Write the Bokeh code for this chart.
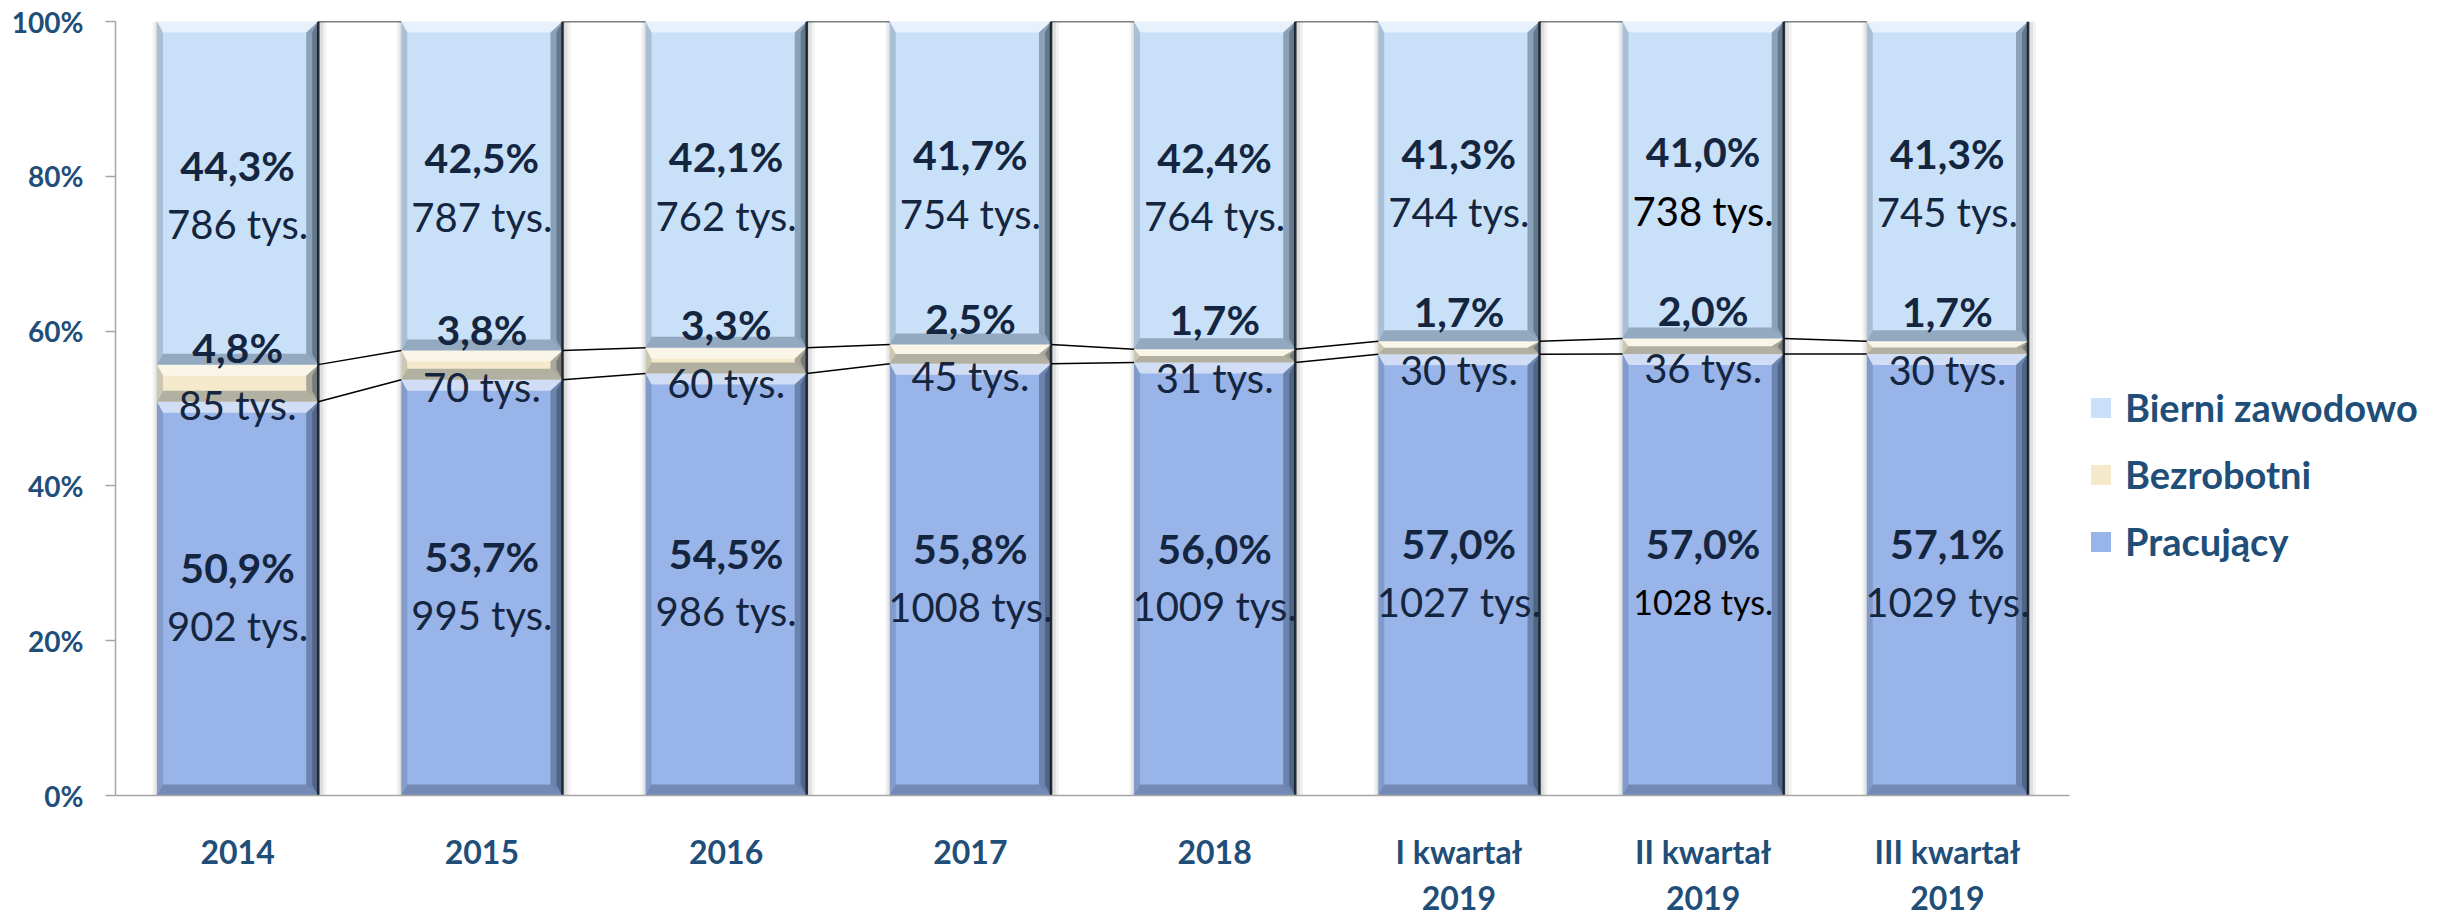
import numpy as np
from bokeh.plotting import figure
from bokeh.models import Range1d, FixedTicker, Legend, LegendItem, ColumnDataSource
from bokeh.core.properties import value
from bokeh.embed import file_html
from bokeh.resources import INLINE

# ---------------- data ----------------
categories = ["2014", "2015", "2016", "2017", "2018",
              "I kwartał 2019", "II kwartał 2019", "III kwartał 2019"]
category_labels = ["2014", "2015", "2016", "2017", "2018",
                   "I kwartał\n2019", "II kwartał\n2019", "III kwartał\n2019"]
pracujacy_tys = [902, 995, 986, 1008, 1009, 1027, 1028, 1029]
bezrobotni_tys = [85, 70, 60, 45, 31, 30, 36, 30]
bierni_tys = [786, 787, 762, 754, 764, 744, 738, 745]
pracujacy_pct = [50.9, 53.7, 54.5, 55.8, 56.0, 57.0, 57.0, 57.1]
bezrobotni_pct = [4.8, 3.8, 3.3, 2.5, 1.7, 1.7, 2.0, 1.7]
bierni_pct = [44.3, 42.5, 42.1, 41.7, 42.4, 41.3, 41.0, 41.3]
y_ticks = [0, 20, 40, 60, 80, 100]
y_tick_labels = ["0%", "20%", "40%", "60%", "80%", "100%"]
series_names = ["Pracujący", "Bezrobotni", "Bierni zawodowo"]

# ---------------- styles ----------------
FRAME_W, FRAME_H = 1954, 774
BAR_W = 0.66
COL_PRAC = "#98B4E8"
COL_BEZ = "#F4EACB"
COL_BIER = "#C8E0F8"
AXIS_TXT = "#1F4E79"
LBL_TXT = "#14253F"
FONT = "Lato"
bierni_tys_color = [LBL_TXT] * 6 + ["#000000", LBL_TXT]
prac_tys_color = [LBL_TXT] * 6 + ["#000000", LBL_TXT]
prac_tys_size = ["40px"] * 6 + ["34px", "40px"]

n = len(categories)
xc = np.arange(n) + 0.5
tot = np.array(pracujacy_tys) + np.array(bezrobotni_tys) + np.array(bierni_tys)
s_prac = np.array(pracujacy_tys) / tot * 100
s_bez = np.array(bezrobotni_tys) / tot * 100
s_bier = np.array(bierni_tys) / tot * 100
c1 = s_prac
c2 = s_prac + s_bez
c3 = c2 + s_bier

dx = n / FRAME_W
dy = 100 / FRAME_H
hw = BAR_W / 2

p = figure(frame_width=FRAME_W, frame_height=FRAME_H,
           x_range=Range1d(0, n), y_range=Range1d(0, 100),
           output_backend="svg", toolbar_location=None,
           min_border_left=115, min_border_right=376,
           min_border_top=21, min_border_bottom=122)
p.outline_line_color = None
p.xgrid.grid_line_color = None
p.ygrid.grid_line_color = None
p.background_fill_color = "white"
p.border_fill_color = "white"

# soft shadows on both sides
for k, a in [(8, 0.05), (5, 0.07), (2, 0.10)]:
    p.quad(left=xc + hw, right=xc + hw + k * dx, bottom=np.zeros(n), top=c3,
           fill_color="black", fill_alpha=a, line_color=None)
    p.quad(left=xc - hw - k * 0.6 * dx, right=xc - hw, bottom=np.zeros(n), top=c3,
           fill_color="black", fill_alpha=a * 0.7, line_color=None)


def draw_segment(bottom, top, color):
    left = xc - hw
    right = xc + hw
    r = p.quad(left=left, right=right, bottom=bottom, top=top,
               fill_color=color, line_color=None)
    by = np.minimum(11 * dy, (top - bottom) / 2)
    rx = 12 * dx
    lx = 6 * dx
    xs_t, ys_t, xs_b, ys_b, xs_r, ys_r, xs_r2, xs_l, ys_l = [], [], [], [], [], [], [], [], []
    for i in range(n):
        l, rr, b, t = left[i], right[i], bottom[i], top[i]
        xs_t.append([l, rr, rr - rx, l + lx])
        ys_t.append([t, t, t - by[i], t - by[i]])
        xs_b.append([l, rr, rr - rx, l + lx])
        ys_b.append([b, b, b + by[i], b + by[i]])
        xs_r.append([rr, rr, rr - rx, rr - rx])
        ys_r.append([b, t, t - by[i], b + by[i]])
        xs_r2.append([rr, rr, rr - rx / 2, rr - rx / 2])
        xs_l.append([l, l, l + lx, l + lx])
        ys_l.append([b, t, t - by[i], b + by[i]])
    p.patches(xs_t, ys_t, fill_color="white", fill_alpha=0.55, line_color=None)
    p.patches(xs_b, ys_b, fill_color="#1B2A40", fill_alpha=0.30, line_color=None)
    p.patches(xs_r, ys_r, fill_color="#1B2A40", fill_alpha=0.35, line_color=None)
    p.patches(xs_r2, ys_r, fill_color="#1B2A40", fill_alpha=0.35, line_color=None)
    p.patches(xs_l, ys_l, fill_color="#1B2A40", fill_alpha=0.18, line_color=None)
    p.segment(x0=right, x1=right, y0=bottom, y1=top, line_color="#161D28",
              line_width=2.5, line_alpha=0.9)
    return r


r_prac = draw_segment(np.zeros(n), c1, COL_PRAC)
r_bez = draw_segment(c1, c2, COL_BEZ)
r_bier = draw_segment(c2, c3, COL_BIER)

# series lines
for lev in [c1, c2, c3]:
    p.segment(x0=xc[:-1] + hw, x1=xc[1:] - hw, y0=lev[:-1], y1=lev[1:],
              line_color="black", line_width=1.5)


def fmt(v):
    return f"{v:.1f}%".replace(".", ",")


def labels(mid, pct, tys, off_a, off_b, tys_colors, tys_sizes):
    src = ColumnDataSource(dict(
        x=xc, y=mid,
        pct=[fmt(v) for v in pct],
        tys=[f"{v} tys." for v in tys],
        tc=tys_colors, ts=tys_sizes))
    p.text(x="x", y="y", text="pct", source=src, y_offset=off_a,
           text_align="center", text_baseline="middle",
           text_font=value(FONT), text_font_style="bold",
           text_font_size="41px", text_color=LBL_TXT)
    p.text(x="x", y="y", text="tys", source=src, y_offset=off_b,
           text_align="center", text_baseline="middle",
           text_font=value(FONT), text_font_size="ts",
           text_color="tc")


labels(c1 / 2, pracujacy_pct, pracujacy_tys, -31, 27, prac_tys_color, prac_tys_size)
labels((c1 + c2) / 2, bezrobotni_pct, bezrobotni_tys, -36, 22,
       [LBL_TXT] * n, ["40px"] * n)
labels((c2 + c3) / 2, bierni_pct, bierni_tys, -28, 31, bierni_tys_color, ["40px"] * n)

# axes
p.yaxis.ticker = FixedTicker(ticks=y_ticks)
p.yaxis.major_label_overrides = {t: l for t, l in zip(y_ticks, y_tick_labels)}
p.yaxis.axis_line_color = "#A6A6A6"
p.yaxis.axis_line_width = 1.5
p.yaxis.major_tick_line_color = "#A6A6A6"
p.yaxis.major_tick_line_width = 1.5
p.yaxis.major_tick_out = 10
p.yaxis.major_tick_in = 0
p.yaxis.minor_tick_line_color = None
p.yaxis.major_label_standoff = 22
p.yaxis.major_label_text_font = FONT
p.yaxis.major_label_text_font_style = "bold"
p.yaxis.major_label_text_font_size = "28px"
p.yaxis.major_label_text_color = AXIS_TXT

p.xaxis.ticker = FixedTicker(ticks=list(xc))
p.xaxis.major_label_overrides = {float(x): l for x, l in zip(xc, category_labels)}
p.xaxis.axis_line_color = "#A6A6A6"
p.xaxis.axis_line_width = 1.5
p.xaxis.major_tick_line_color = None
p.xaxis.minor_tick_line_color = None
p.xaxis.major_label_standoff = 30
p.xaxis.major_label_text_font = FONT
p.xaxis.major_label_text_font_style = "bold"
p.xaxis.major_label_text_font_size = "32px"
p.xaxis.major_label_text_color = AXIS_TXT

legend = Legend(items=[LegendItem(label=series_names[2], renderers=[r_bier]),
                       LegendItem(label=series_names[1], renderers=[r_bez]),
                       LegendItem(label=series_names[0], renderers=[r_prac])],
                location=(19, 231), orientation="vertical",
                glyph_width=25, glyph_height=25, label_standoff=12,
                spacing=21, padding=0, margin=0,
                border_line_color=None, background_fill_alpha=0,
                label_text_font=FONT, label_text_font_style="bold",
                label_text_font_size="38px", label_text_color=AXIS_TXT)
p.add_layout(legend, "right")

open("out.html", "w").write(file_html(p, INLINE))
